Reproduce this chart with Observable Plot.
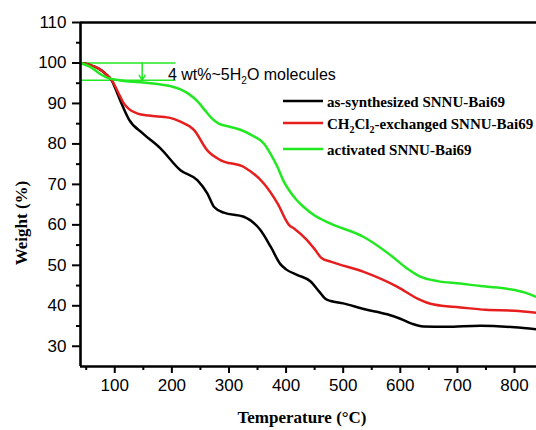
<!DOCTYPE html>
<html><head><meta charset="utf-8">
<script src="https://cdn.jsdelivr.net/npm/d3@7"></script>
<script src="https://cdn.jsdelivr.net/npm/@observablehq/plot@0.6"></script>
<style>html,body{margin:0;padding:0;background:#fff;} #chart svg{display:block}</style>
</head><body><div id="chart"></div>
<script>
// ---- data ----
const seriesNames = ["as-synthesized SNNU-Bai69", "CH2Cl2-exchanged SNNU-Bai69", "activated SNNU-Bai69"];
const seriesColors = ["#000000", "#e61e1e", "#22e822"];

const asSynT = [40, 55, 72, 85, 95, 105, 113, 125, 150, 180, 215, 245, 262, 274, 291, 326, 355, 373, 390, 400, 420, 443, 458, 470, 478, 500, 536, 577, 600, 620, 640, 680, 740, 800, 838];
const asSynW = [100, 99.6, 98.6, 97.2, 95.6, 92.3, 89.6, 86.0, 82.5, 78.9, 73.5, 71.0, 67.8, 64.4, 63.0, 62.0, 58.7, 54.6, 50.3, 49.0, 47.6, 46.0, 43.5, 41.6, 41.2, 40.6, 39.2, 37.9, 36.8, 35.6, 34.9, 34.8, 35.1, 34.7, 34.2];

const exchT = [40, 55, 72, 85, 95, 107, 115, 125, 140, 160, 195, 215, 239, 262, 285, 326, 361, 385, 405, 415, 435, 450, 462, 478, 536, 595, 630, 659, 705, 750, 800, 838];
const exchW = [100, 99.6, 98.6, 97.2, 95.7, 92.4, 90.2, 88.6, 87.5, 87.0, 86.5, 85.5, 83.4, 78.4, 76.0, 74.3, 70.2, 65.3, 60.0, 59.0, 56.5, 54.0, 51.8, 50.9, 48.4, 44.7, 41.8, 40.3, 39.6, 39.0, 38.8, 38.3];

const actT = [40, 60, 75, 90, 100, 125, 150, 175, 200, 215, 230, 245, 258, 270, 282, 300, 320, 338, 361, 373, 385, 395, 405, 418, 431, 450, 478, 536, 583, 612, 635, 665, 705, 740, 770, 800, 820, 838];
const actW = [100, 98.8, 97.2, 96.2, 95.9, 95.4, 95.2, 94.8, 94.2, 93.5, 92.3, 90.5, 88.3, 86.3, 85.0, 84.3, 83.5, 82.3, 80.1, 77.5, 74.3, 71.0, 68.6, 66.2, 64.4, 62.3, 60.3, 57.0, 52.5, 49.2, 47.2, 46.1, 45.5, 44.9, 44.5, 43.9, 43.2, 42.2];

const xTicks = [100, 200, 300, 400, 500, 600, 700, 800];
const xMinorTicks = [50, 150, 250, 350, 450, 550, 650, 750];
const yTicks = [30, 40, 50, 60, 70, 80, 90, 100, 110];
const yMinorTicks = [35, 45, 55, 65, 75, 85, 95, 105];

// water-loss annotation (weight levels and temperatures)
const waterTopW = 100, waterBottomW = 95.7, waterSpanT = [40, 207], waterArrowT = 148;
const waterLabelT = 194, waterLabelW = 97;

// ---- build table ----
const tables = [[asSynT, asSynW], [exchT, exchW], [actT, actW]];
const rows = tables.flatMap(([T, W], i) => T.map((t, j) => ({series: seriesNames[i], T: t, W: W[j]})));
const green = seriesColors[2];

const plot = Plot.plot({
  width: 536, height: 430,
  marginTop: 22, marginBottom: 64, marginLeft: 80, marginRight: 0,
  x: {domain: [40, 838.5]},
  y: {domain: [25, 110]},
  color: {domain: seriesNames, range: seriesColors},
  style: {fontFamily: "'Liberation Sans', Arial, sans-serif", fontSize: "17px", color: "#000", background: "#fff"},
  marks: [
    Plot.ruleY([waterTopW, waterBottomW], {x1: waterSpanT[0], x2: waterSpanT[1], stroke: green, strokeWidth: 1.5}),
    Plot.arrow([0], {x1: waterArrowT, x2: waterArrowT, y1: waterTopW, y2: waterBottomW, stroke: green, strokeWidth: 1.5, headLength: 7}),
    Plot.line(rows, {x: "T", y: "W", z: "series", stroke: "series", curve: "monotone-x", strokeWidth: 2.5}),
    Plot.axisX(xTicks, {tickSize: 7, tickPadding: 5, strokeWidth: 2, fontSize: 17, label: null}),
    Plot.axisX(xMinorTicks, {tickSize: 4, strokeWidth: 2, text: null, label: null}),
    Plot.axisY(yTicks, {tickSize: 8, tickPadding: 6, strokeWidth: 2, fontSize: 17, label: null}),
    Plot.axisY(yMinorTicks, {tickSize: 4, strokeWidth: 2, text: null, label: null}),
    Plot.ruleX([40], {strokeWidth: 2.6}),
    Plot.ruleY([25, 110], {strokeWidth: 2.6})
  ]
});
document.getElementById("chart").appendChild(plot);

// ---- text overlays ----
const svg = d3.select(plot);
const sx = plot.scale("x"), sy = plot.scale("y");
const serif = "'Liberation Serif', 'Times New Roman', serif";

// annotation text
const ann = svg.append("text")
  .attr("x", sx.apply(waterLabelT)).attr("y", sy.apply(waterLabelW) + 5)
  .attr("text-anchor", "start")
  .attr("font-family", "'Liberation Sans', Arial, sans-serif").attr("font-size", 16).attr("fill", "#000");
ann.append("tspan").text("4 wt%~5H");
ann.append("tspan").text("2").attr("font-size", 10).attr("dy", 4);
ann.append("tspan").text("O molecules").attr("dy", -4);

// axis titles
svg.append("text").attr("transform", "translate(27,223) rotate(-90)")
  .attr("text-anchor", "middle").attr("font-family", serif).attr("font-weight", "bold")
  .attr("font-size", 17).text("Weight (%)");
svg.append("text").attr("x", 302).attr("y", 423)
  .attr("text-anchor", "middle").attr("font-family", serif).attr("font-weight", "bold")
  .attr("font-size", 17).text("Temperature (\u00B0C)");

// legend
const legendY = [101, 123, 149];
const legend = svg.append("g");
seriesNames.forEach((name, i) => {
  legend.append("line").attr("x1", 283).attr("x2", 323).attr("y1", legendY[i]).attr("y2", legendY[i])
    .attr("stroke", seriesColors[i]).attr("stroke-width", 2.5);
  const t = legend.append("text").attr("x", 327).attr("y", legendY[i] + 6)
    .attr("text-anchor", "start")
    .attr("font-family", serif).attr("font-weight", "bold").attr("font-size", 15).attr("fill", "#000");
  if (i === 1) {
    t.append("tspan").text("CH");
    t.append("tspan").text("2").attr("font-size", 10).attr("dy", 4);
    t.append("tspan").text("Cl").attr("dy", -4);
    t.append("tspan").text("2").attr("font-size", 10).attr("dy", 4);
    t.append("tspan").text("-exchanged SNNU-Bai69").attr("dy", -4);
  } else {
    t.text(name);
  }
});
</script>
</body></html>
